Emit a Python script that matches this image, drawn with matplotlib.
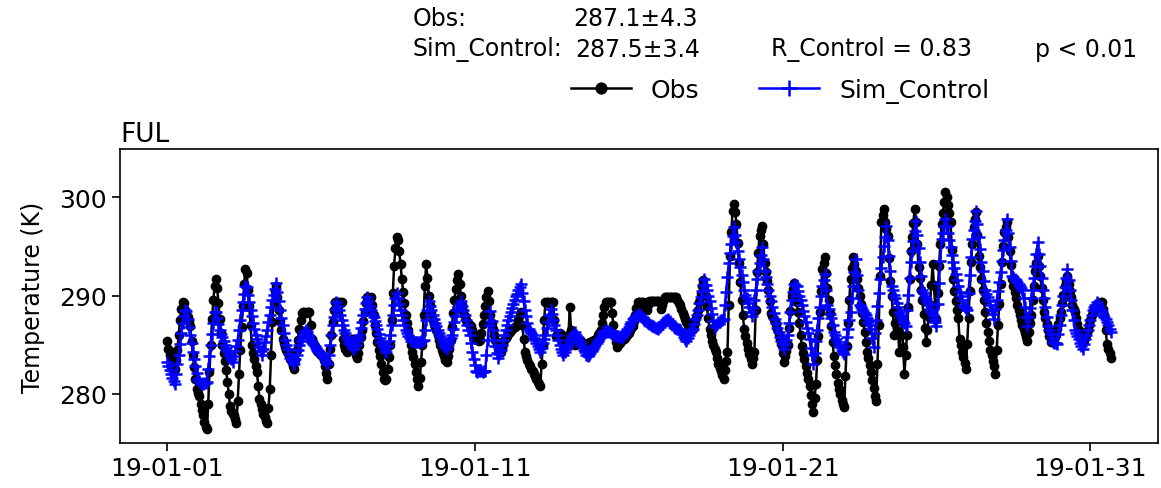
import numpy as np
import pandas as pd
import matplotlib
matplotlib.use('Agg')
import matplotlib.pyplot as plt
import matplotlib.dates as mdates

# hourly values, one row per day (from 2019-01-01 00:00)
obs = [
    285.4, 284.6, 284.0, 283.2, 282.6, 282.3, 282.5, 283.4, 284.5, 286.0, 287.5, 288.6, 289.3, 289.2, 288.5, 288.2, 287.8, 287.4, 286.9, 285.4, 283.9, 282.7, 281.5, 280.5,
    280.1, 279.8, 279.0, 278.4, 277.8, 277.1, 276.6, 276.4, 279.0, 282.2, 285.0, 287.6, 289.5, 291.0, 291.7, 290.8, 289.2, 287.6, 286.2, 285.0, 284.2, 283.3, 282.4, 281.2,
    280.0, 278.8, 278.3, 278.0, 277.8, 277.4, 277.0, 279.3, 282.0, 284.5, 286.8, 288.9, 291.2, 292.7, 292.3, 290.6, 288.9, 287.0, 285.0, 284.2, 283.5, 282.8, 282.2, 280.8,
    279.5, 279.0, 278.5, 278.0, 277.6, 277.2, 277.0, 278.6, 280.5, 284.0, 287.3, 289.2, 290.5, 291.0, 289.8, 288.5, 287.4, 286.5, 285.6, 285.2, 284.8, 284.5, 284.2, 283.9,
    283.5, 283.2, 282.8, 282.5, 283.4, 284.5, 285.5, 286.6, 287.5, 288.2, 288.3, 288.3, 288.2, 288.3, 288.3, 288.3, 287.0, 285.6, 285.2, 284.9, 284.6, 284.4, 284.3, 284.1,
    284.0, 283.9, 283.4, 282.8, 282.1, 281.5, 283.0, 284.6, 286.0, 287.3, 288.5, 289.3, 289.3, 289.3, 289.2, 289.3, 289.3, 285.6, 285.0, 284.6, 284.3, 284.5, 284.8, 285.2,
    285.6, 285.0, 284.4, 283.9, 283.6, 284.2, 285.0, 285.8, 286.5, 287.4, 288.3, 289.2, 289.8, 289.8, 289.7, 289.8, 289.0, 288.0, 287.0, 286.2, 285.3, 284.5, 283.8, 283.0,
    282.2, 281.5, 281.4, 281.5, 282.5, 283.7, 285.0, 287.5, 290.3, 293.0, 294.8, 295.9, 295.6, 294.5, 293.2, 291.7, 290.4, 289.2, 288.0, 287.2, 286.5, 285.7, 285.0, 284.3,
    283.7, 283.0, 282.2, 281.5, 280.8, 281.6, 283.2, 285.0, 288.0, 291.0, 293.2, 291.8, 290.0, 289.0, 288.2, 287.5, 287.1, 286.8, 286.5, 286.0, 285.5, 285.0, 284.5, 284.2,
    283.8, 283.4, 283.2, 283.8, 284.6, 285.5, 286.8, 288.2, 289.5, 290.7, 291.6, 292.2, 291.2, 290.0, 289.0, 288.4, 287.9, 287.5, 287.3, 287.2, 287.0, 286.9, 286.5, 286.1,
    285.8, 285.6, 285.5, 285.4, 285.5, 286.2, 287.1, 288.0, 288.9, 289.8, 290.5, 289.4, 288.0, 287.2, 286.6, 286.0, 285.5, 285.0, 284.6, 284.4, 284.3, 284.7, 285.1, 285.5,
    285.7, 285.9, 286.1, 286.3, 286.5, 286.6, 286.7, 286.8, 286.9, 287.0, 287.5, 288.0, 288.3, 287.0, 285.6, 284.3, 283.8, 283.4, 283.0, 282.8, 282.5, 282.3, 282.0, 281.8,
    281.5, 281.2, 281.0, 280.8, 283.0, 285.0, 287.5, 289.3, 289.3, 289.3, 289.2, 289.3, 289.3, 289.3, 287.5, 285.9, 286.0, 286.1, 286.2, 286.0, 285.8, 285.6, 285.5, 285.7,
    285.8, 286.0, 288.8, 286.5, 285.8, 285.3, 285.0, 285.1, 285.3, 285.4, 285.5, 285.4, 285.2, 285.1, 285.0, 285.1, 285.2, 285.2, 285.3, 285.4, 285.4, 285.5, 285.5, 285.7,
    286.0, 286.2, 286.5, 287.2, 288.0, 288.8, 289.3, 289.3, 289.3, 289.3, 289.3, 288.2, 287.0, 286.0, 285.3, 284.8, 285.0, 285.2, 285.4, 285.5, 285.6, 285.7, 285.9, 286.0,
    286.2, 286.5, 286.7, 286.9, 287.4, 288.0, 288.7, 289.3, 289.3, 289.3, 289.3, 289.3, 289.0, 288.7, 288.5, 289.0, 289.4, 289.4, 289.4, 289.4, 289.4, 289.4, 289.4, 289.4,
    289.4, 288.6, 289.0, 289.4, 289.8, 289.8, 289.8, 289.8, 289.8, 289.8, 289.8, 289.8, 289.8, 289.8, 289.5, 289.2, 289.0, 288.6, 288.2, 287.9, 287.6, 287.3, 287.0, 286.9,
    286.8, 286.7, 286.6, 287.0, 287.5, 288.0, 288.5, 289.3, 290.2, 291.0, 291.6, 291.0, 290.0, 288.9, 287.7, 286.6, 286.0, 285.4, 285.0, 284.6, 284.3, 283.6, 283.0, 282.6,
    282.3, 281.9, 281.5, 282.4, 283.3, 284.3, 289.0, 294.0, 296.5, 298.6, 299.3, 298.5, 297.3, 295.3, 293.3, 291.4, 289.5, 288.0, 286.6, 285.9, 285.2, 284.6, 284.1, 283.5,
    283.0, 283.6, 284.3, 288.5, 292.4, 294.3, 296.1, 296.7, 297.1, 295.2, 293.3, 292.4, 291.5, 290.6, 289.4, 288.2, 287.9, 287.6, 287.3, 287.1, 286.6, 286.1, 285.6, 285.1,
    284.2, 283.2, 283.8, 284.4, 285.0, 286.7, 288.4, 290.0, 290.7, 291.3, 290.3, 289.3, 288.3, 287.2, 286.0, 284.9, 284.2, 283.5, 282.8, 282.1, 281.5, 280.8, 279.9, 279.0,
    278.2, 279.6, 281.0, 283.4, 285.9, 288.3, 290.5, 292.7, 293.3, 293.9, 292.3, 290.8, 289.5, 288.2, 286.9, 285.3, 283.8, 282.9, 282.0, 281.1, 280.5, 280.0, 279.4, 279.0,
    278.7, 281.8, 284.9, 287.2, 289.5, 291.7, 292.8, 293.9, 293.2, 292.5, 291.7, 290.8, 290.0, 289.1, 288.2, 287.3, 286.3, 285.3, 284.3, 283.6, 282.9, 282.2, 281.4, 280.6,
    279.8, 279.3, 283.0, 287.0, 292.0, 297.5, 298.2, 298.8, 297.5, 296.8, 296.1, 293.8, 291.5, 289.9, 288.3, 286.0, 287.2, 288.5, 286.4, 284.3, 286.0, 287.6, 284.8, 282.0,
    284.0, 286.0, 288.8, 291.7, 294.5, 296.0, 297.4, 298.8, 297.5, 295.2, 292.9, 291.8, 290.6, 289.5, 288.1, 286.7, 285.3, 286.5, 287.8, 289.0, 291.1, 293.2, 291.1, 289.0,
    287.6, 290.3, 293.0, 295.2, 297.3, 298.4, 299.5, 300.5, 300.0, 299.2, 298.4, 297.5, 294.6, 291.7, 290.5, 289.4, 288.5, 287.7, 285.6, 285.0, 284.3, 283.7, 283.1, 282.5,
    285.1, 287.7, 290.5, 293.4, 295.2, 297.0, 297.8, 298.5, 296.2, 294.0, 292.9, 291.7, 290.6, 289.5, 288.3, 287.2, 286.3, 285.4, 284.5, 283.9, 283.3, 282.8, 282.0, 284.5,
    287.0, 289.1, 291.2, 293.4, 295.0, 296.5, 297.0, 297.5, 296.0, 294.5, 293.1, 291.7, 291.0, 290.4, 289.7, 289.0, 288.5, 288.0, 287.5, 287.0, 286.6, 286.2, 285.8, 285.4,
    286.3, 287.2, 288.0, 289.5, 291.0, 292.5, 293.3, 294.0, 293.0, 292.0, 290.8, 289.5, 288.3, 287.7, 287.1, 286.5, 285.9, 285.3, 285.5, 285.7, 285.8, 286.0, 286.6, 287.1,
    287.7, 288.3, 289.2, 290.1, 291.0, 291.5, 292.0, 291.2, 290.5, 289.8, 289.0, 288.6, 288.3, 287.7, 287.1, 286.5, 286.1, 285.7, 285.3, 285.5, 285.8, 286.0, 286.5, 287.0,
    287.5, 288.0, 288.3, 288.5, 288.8, 289.0, 289.1, 289.2, 289.3, 289.3, 288.6, 288.0, 286.5, 285.1, 284.6, 284.2, 283.6,
]

sim_control = [
    283.2, 282.8, 282.4, 282.0, 281.6, 281.3, 281.0, 282.0, 283.0, 284.0, 285.1, 286.2, 287.2, 287.9, 288.5, 288.4, 287.6, 286.8, 286.0, 285.2, 284.3, 283.5, 282.8, 282.1,
    281.5, 281.3, 281.1, 281.0, 281.0, 281.1, 281.1, 281.2, 282.5, 283.8, 285.0, 286.1, 287.2, 288.3, 288.3, 287.7, 287.1, 286.5, 286.1, 285.8, 285.4, 285.0, 284.7, 284.4,
    284.1, 283.8, 283.5, 283.2, 283.8, 284.4, 284.9, 285.5, 286.5, 287.5, 288.5, 289.3, 290.2, 291.0, 290.9, 290.1, 289.3, 288.5, 287.9, 287.2, 286.6, 286.0, 285.6, 285.2,
    284.8, 284.4, 284.0, 284.6, 285.3, 285.9, 286.5, 287.3, 288.0, 288.8, 289.5, 290.1, 290.7, 291.3, 290.4, 289.4, 288.5, 287.7, 287.0, 286.2, 285.5, 285.0, 284.6, 284.1,
    283.6, 283.4, 283.2, 283.0, 283.5, 284.0, 284.5, 285.0, 285.4, 285.7, 286.0, 286.3, 286.5, 286.3, 286.0, 285.8, 285.5, 285.3, 285.1, 284.9, 284.7, 284.5, 284.4, 284.2,
    284.1, 283.9, 283.7, 283.5, 283.2, 283.0, 284.0, 285.0, 286.0, 287.0, 287.8, 288.6, 289.3, 288.9, 288.5, 288.0, 287.5, 287.0, 286.5, 286.2, 285.8, 285.5, 285.2, 285.0,
    284.9, 284.7, 284.6, 285.0, 285.4, 285.7, 286.0, 286.7, 287.3, 288.0, 288.6, 289.2, 289.8, 289.4, 288.9, 288.5, 288.1, 287.8, 287.4, 287.0, 286.6, 286.1, 285.7, 285.3,
    285.0, 284.8, 284.5, 284.3, 284.9, 285.4, 286.0, 287.0, 288.0, 289.0, 289.7, 290.3, 289.7, 289.1, 288.5, 288.0, 287.5, 287.0, 286.5, 286.2, 285.9, 285.7, 285.4, 285.4,
    285.4, 285.3, 285.3, 285.3, 285.3, 285.3, 285.4, 285.4, 285.5, 286.5, 287.5, 288.5, 289.4, 288.9, 288.5, 288.0, 287.6, 287.2, 286.9, 286.5, 286.2, 285.9, 285.6, 285.3,
    285.0, 284.8, 284.6, 285.0, 285.3, 285.7, 286.0, 286.6, 287.3, 287.9, 288.5, 288.8, 289.1, 289.4, 288.9, 288.5, 288.0, 287.5, 287.0, 286.5, 286.0, 285.2, 284.3, 283.5,
    282.9, 282.3, 282.2, 282.3, 282.4, 282.3, 282.2, 282.3, 282.3, 283.9, 285.5, 287.0, 288.4, 287.4, 286.5, 285.5, 284.9, 284.2, 283.6, 284.1, 284.5, 285.0, 285.5, 286.0,
    286.5, 287.0, 287.5, 287.9, 288.3, 288.7, 289.1, 289.5, 289.9, 290.2, 290.6, 290.9, 291.2, 290.3, 289.4, 288.5, 287.9, 287.2, 286.6, 286.4, 286.2, 286.0, 285.7, 285.5,
    285.2, 284.9, 284.6, 284.3, 284.7, 285.2, 285.6, 286.0, 286.7, 287.3, 288.0, 288.6, 288.1, 287.5, 287.0, 286.5, 286.0, 285.5, 285.0, 284.6, 284.3, 283.9, 284.3, 284.6,
    284.8, 285.0, 285.3, 285.6, 285.9, 286.1, 286.3, 286.0, 285.8, 285.5, 285.3, 285.0, 284.8, 284.5, 284.3, 284.0, 283.8, 284.0, 284.2, 284.4, 284.6, 284.8, 285.0, 285.2,
    285.4, 285.6, 285.8, 286.0, 286.2, 286.4, 286.5, 286.4, 286.3, 286.3, 286.2, 286.1, 286.0, 286.0, 285.9, 285.9, 285.9, 285.8, 285.8, 285.8, 286.0, 286.2, 286.4, 286.6,
    286.8, 287.1, 287.3, 287.6, 287.7, 287.8, 287.9, 288.0, 288.1, 288.0, 287.8, 287.7, 287.5, 287.4, 287.3, 287.2, 287.1, 287.0, 286.9, 286.9, 286.8, 286.7, 286.7, 286.6,
    286.8, 287.0, 287.1, 287.3, 287.4, 287.5, 287.5, 287.6, 287.4, 287.2, 287.0, 286.8, 286.7, 286.7, 286.6, 286.6, 286.5, 286.3, 286.1, 285.8, 285.6, 285.4, 285.7, 286.0,
    286.3, 286.5, 286.6, 287.1, 287.6, 288.0, 288.5, 289.2, 289.8, 290.5, 291.1, 291.7, 291.1, 290.6, 290.0, 289.4, 288.7, 288.1, 287.4, 286.8, 287.0, 287.1, 287.3, 287.4,
    287.5, 287.5, 287.6, 289.0, 290.4, 291.9, 293.3, 294.3, 295.2, 296.1, 297.0, 296.2, 295.4, 294.5, 293.7, 292.9, 292.1, 291.4, 290.6, 290.1, 289.7, 289.2, 288.8, 288.3,
    287.9, 288.7, 289.5, 290.6, 291.7, 292.5, 293.3, 294.1, 294.9, 293.7, 292.5, 291.9, 291.2, 290.6, 290.0, 289.4, 288.8, 288.2, 287.6, 287.2, 286.7, 286.3, 285.8, 285.4,
    285.0, 284.6, 285.1, 285.5, 286.0, 287.2, 288.3, 289.5, 290.4, 291.2, 291.1, 291.0, 290.5, 290.0, 289.5, 289.0, 288.4, 287.9, 287.3, 286.7, 286.2, 285.6, 284.7, 283.9,
    283.0, 284.2, 285.4, 286.5, 287.7, 288.8, 289.9, 291.0, 291.6, 292.2, 290.6, 289.0, 288.6, 288.1, 287.7, 287.0, 286.3, 286.0, 285.6, 285.3, 285.0, 284.8, 284.5, 284.3,
    284.1, 284.9, 285.8, 286.6, 287.5, 288.3, 289.7, 291.0, 292.4, 293.7, 292.1, 290.6, 289.0, 288.8, 288.6, 288.4, 288.2, 288.0, 287.7, 287.3, 287.0, 286.6, 285.7, 284.8,
    286.2, 287.5, 288.9, 290.3, 291.7, 292.8, 293.9, 295.0, 296.0, 297.1, 295.6, 294.0, 292.5, 291.0, 290.6, 290.1, 289.7, 289.2, 288.8, 288.3, 288.0, 287.7, 287.4, 287.2,
    286.9, 288.5, 290.1, 291.8, 293.4, 294.5, 295.5, 296.6, 297.6, 296.2, 294.8, 293.4, 292.0, 290.6, 290.3, 290.0, 289.6, 289.3, 289.0, 288.6, 288.3, 288.0, 287.6, 287.3,
    286.9, 289.1, 291.3, 293.5, 295.7, 296.4, 297.1, 297.8, 297.1, 296.4, 295.6, 294.9, 294.1, 293.4, 292.8, 292.2, 291.6, 291.0, 290.4, 289.9, 289.5, 289.0, 288.8, 288.7,
    288.5, 290.3, 292.1, 293.9, 295.7, 296.7, 297.6, 298.6, 297.3, 296.0, 294.7, 293.4, 292.5, 291.5, 290.6, 290.2, 289.8, 289.4, 289.0, 288.5, 288.1, 287.6, 288.6, 289.5,
    290.5, 291.4, 292.4, 293.5, 294.6, 295.6, 296.7, 297.8, 296.4, 294.9, 293.5, 292.0, 291.9, 291.7, 291.6, 291.4, 291.2, 291.0, 290.8, 290.6, 289.7, 288.8, 287.8, 286.9,
    287.8, 288.7, 289.7, 290.6, 291.8, 293.0, 294.2, 295.4, 294.2, 293.0, 291.8, 290.6, 289.7, 288.8, 287.8, 286.9, 286.5, 286.1, 285.7, 285.3, 285.2, 285.2, 285.1, 286.1,
    287.0, 288.0, 289.0, 289.9, 290.9, 291.8, 292.7, 291.6, 290.6, 289.5, 288.5, 287.5, 286.5, 286.2, 285.9, 285.6, 285.2, 284.9, 284.6, 285.1, 285.6, 286.0, 286.5, 287.0,
    287.5, 288.0, 288.5, 288.8, 289.0, 289.3, 289.0, 288.8, 288.5, 288.3, 288.0, 287.8, 287.6, 287.3, 287.0, 286.6, 286.3,
]

times = pd.date_range('2019-01-01 00:00', periods=len(obs), freq='h')
tick_dates = pd.to_datetime(['2019-01-01', '2019-01-11', '2019-01-21', '2019-01-31'])

site = 'FUL'
stats_obs = '287.1\u00b14.3'
stats_sim = '287.5\u00b13.4'
r_text = 'R_Control = 0.83'
p_text = 'p < 0.01'

W, H = 1161, 489
fig = plt.figure(figsize=(W / 100, H / 100), dpi=100)
ax = fig.add_axes([120 / W, 1 - 444 / H, (1158 - 120) / W, (444 - 150) / H])

ax.plot(times, obs, color='k', marker='o', markersize=6, linewidth=1.8, label='Obs')
ax.plot(times, sim_control, color='b', marker='+', markersize=9, markeredgewidth=1.8,
        linewidth=1.8, label='Sim_Control')

ax.set_ylim(275, 304.9)
ax.set_yticks([280, 290, 300])
ax.set_xticks(tick_dates)
ax.xaxis.set_major_formatter(mdates.DateFormatter('%y-%m-%d'))
ax.tick_params(labelsize=18, length=6, width=1.2)
for s in ax.spines.values():
    s.set_linewidth(1.2)
ax.set_ylabel('Temperature (K)', fontsize=17, labelpad=10)
ax.set_title(site, loc='left', fontsize=19)

fs = 17
fig.text(413 / W, 1 - 19 / H, 'Obs:', fontsize=fs, va='center')
fig.text(573 / W, 1 - 19 / H, stats_obs, fontsize=fs, va='center')
fig.text(413 / W, 1 - 50 / H, 'Sim_Control:', fontsize=fs, va='center')
fig.text(575 / W, 1 - 50 / H, stats_sim, fontsize=fs, va='center')
fig.text(771 / W, 1 - 50 / H, r_text, fontsize=fs, va='center')
fig.text(1035 / W, 1 - 50 / H, p_text, fontsize=fs, va='center')

fig.legend(loc='center', bbox_to_anchor=(780 / W, 1 - 91 / H), ncol=2, frameon=False,
           fontsize=18, markerscale=1.3, handlelength=2.4, columnspacing=2.4)

fig.savefig('out.png', dpi=100)
